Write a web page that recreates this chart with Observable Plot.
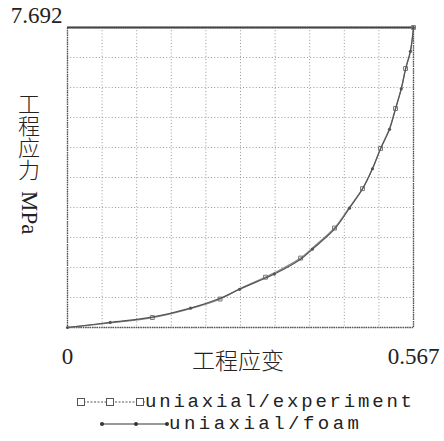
<!DOCTYPE html>
<html>
<head>
<meta charset="utf-8">
<script src="https://cdn.jsdelivr.net/npm/d3@7"></script>
<script src="https://cdn.jsdelivr.net/npm/@observablehq/plot@0.6"></script>
<style>
  html, body { margin: 0; padding: 0; background: #fff; }
  text.vlabel { writing-mode: vertical-rl; text-orientation: mixed; }
</style>
</head>
<body>
<div id="chart"></div>
<script>
// Data (engineering strain vs engineering stress, MPa)
const strainExp = [0, 0.07, 0.139, 0.2016, 0.25, 0.282, 0.3245, 0.339, 0.382, 0.4015, 0.4375, 0.462, 0.4834, 0.4998, 0.513, 0.5277, 0.5375, 0.547, 0.554, 0.562, 0.567];
const stressExp = [0, 0.12, 0.256, 0.487, 0.73, 0.99, 1.29, 1.40, 1.78, 2.04, 2.55, 3.08, 3.56, 4.08, 4.59, 5.10, 5.615, 6.13, 6.64, 7.10, 7.692];
const strainFoam = [0, 0.07, 0.139, 0.2016, 0.25, 0.282, 0.3245, 0.339, 0.382, 0.4015, 0.4375, 0.462, 0.4834, 0.4998, 0.513, 0.5277, 0.5375, 0.547, 0.554, 0.562, 0.567];
const stressFoam = [0, 0.13, 0.265, 0.495, 0.75, 0.98, 1.27, 1.37, 1.75, 2.01, 2.52, 3.06, 3.55, 4.07, 4.58, 5.08, 5.60, 6.12, 6.62, 7.08, 7.692];
const xTicks = [0, 0.567];
const yTicks = [7.692];
const xGrid = d3.range(11).map(i => i * 0.0567);
const yGrid = d3.range(11).map(i => i * 0.7692);
const xLabel = "工程应变";
const yLabelMain = "工程应力";
const yLabelUnit = "MPa";
const seriesNames = ["uniaxial/experiment", "uniaxial/foam"];

const exp = strainExp.map((x, i) => ({x, y: stressExp[i]}));
const foam = strainFoam.map((x, i) => ({x, y: stressFoam[i]}));

const W = 444, H = 441;
const mL = 67, mR = 31, mT = 27, mB = 114;
const serif = "'Liberation Serif', 'Times New Roman', serif";

const plot = Plot.plot({
  width: W,
  height: H,
  marginLeft: mL,
  marginRight: mR,
  marginTop: mT,
  marginBottom: mB,
  style: {background: "#fff", color: "#222"},
  x: {domain: [0, 0.567]},
  y: {domain: [0, 7.692]},
  marks: [
    Plot.ruleX(xGrid, {stroke: "#999", strokeWidth: 1, strokeDasharray: "1,2.2"}),
    Plot.ruleY(yGrid, {stroke: "#999", strokeWidth: 1, strokeDasharray: "1,2.2"}),
    Plot.frame({stroke: "#555", strokeWidth: 1.4, strokeDasharray: "1.5,0.8"}),
    Plot.ruleY([7.692], {stroke: "#444", strokeWidth: 1.8}),
    Plot.axisX(xTicks, {tickSize: 0, tickPadding: 20, fontSize: 23, fontFamily: serif, tickFormat: d => d === 0 ? "0" : String(d), label: null}),
    Plot.axisY(yTicks, {tickSize: 0, tickPadding: 5, dy: -12, fontSize: 23, fontFamily: serif, tickFormat: d => String(d), label: null}),
    Plot.line(exp, {x: "x", y: "y", stroke: "#888", strokeWidth: 1.3, curve: "catmull-rom"}),
    Plot.dot(exp.filter((d, i) => i % 2 === 0 && i > 0), {x: "x", y: "y", symbol: "square", r: 2.2, stroke: "#777", fill: "none", strokeWidth: 1}),
    Plot.line(foam, {x: "x", y: "y", stroke: "#555", strokeWidth: 1.2, curve: "catmull-rom"}),
    Plot.dot(foam.filter((d, i) => i % 2 === 1 || i === 0 || i === foam.length - 1), {x: "x", y: "y", r: 1.6, fill: "#555", stroke: "none"})
  ]
});

document.getElementById("chart").appendChild(plot);

const svg = d3.select(plot);

// x axis label
svg.append("text")
  .attr("x", 238).attr("y", 369)
  .attr("text-anchor", "middle")
  .style("font-family", "'Noto Sans CJK SC', sans-serif")
  .style("font-size", "23px")
  .style("font-weight", "300")
  .attr("fill", "#222")
  .text(xLabel);

// y axis label: vertical writing, one text element
const yl = svg.append("text").attr("class", "vlabel").attr("fill", "#222")
  .attr("writing-mode", "vertical-rl")
  .attr("x", 29).attr("y", 93)
  .attr("text-anchor", "start")
  .style("font-family", "'Noto Sans CJK SC', sans-serif")
  .style("font-size", "22px").style("font-weight", "300");
yl.append("tspan").text(yLabelMain + "\u00a0\u00a0");
yl.append("tspan").style("font-family", serif).style("font-size", "23px").style("font-weight", "normal").text(yLabelUnit);

// legend
const lg = svg.append("g").attr("class", "legend");
const mono = "'Liberation Mono', 'Courier New', monospace";
// row 1: experiment
const y1 = 402;
lg.append("line").attr("x1", 80).attr("x2", 145).attr("y1", y1).attr("y2", y1)
  .attr("stroke", "#555").attr("stroke-dasharray", "2,1.5").attr("stroke-width", 1);
[81, 110, 140].forEach(cx => {
  lg.append("rect").attr("x", cx - 3.5).attr("y", y1 - 3.5).attr("width", 7).attr("height", 7)
    .attr("fill", "#fff").attr("stroke", "#555").attr("stroke-width", 1);
});
lg.append("text").attr("x", 145).attr("y", y1 + 5).attr("text-anchor", "start")
  .attr("textLength", 267).attr("lengthAdjust", "spacing")
  .style("font-family", mono).style("font-size", "19px")
  .attr("fill", "#222").text(seriesNames[0]);
// row 2: foam
const y2 = 424;
lg.append("line").attr("x1", 102).attr("x2", 168).attr("y1", y2).attr("y2", y2)
  .attr("stroke", "#333").attr("stroke-width", 1.2);
[102, 136, 167].forEach(cx => {
  lg.append("circle").attr("cx", cx).attr("cy", y2).attr("r", 2).attr("fill", "#333");
});
lg.append("text").attr("x", 169).attr("y", y2 + 5).attr("text-anchor", "start")
  .attr("textLength", 190).attr("lengthAdjust", "spacing")
  .style("font-family", mono).style("font-size", "19px")
  .attr("fill", "#222").text(seriesNames[1]);
</script>
</body>
</html>
